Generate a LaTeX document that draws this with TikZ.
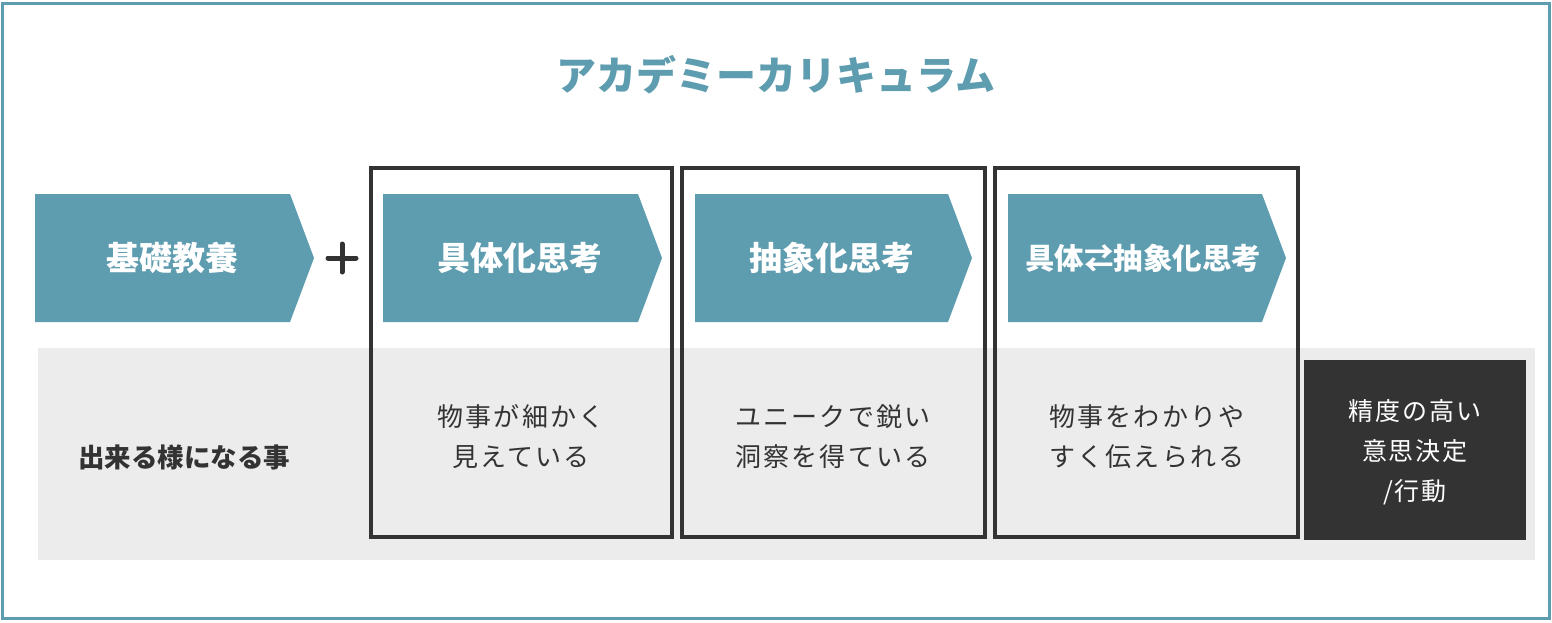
\documentclass[tikz,border=0pt]{standalone}
\usepackage{fontspec}
\setmainfont{Noto Sans CJK JP}
\newfontfamily\spaced{Noto Sans CJK JP}[LetterSpace=8]
\usetikzlibrary{calc}
\definecolor{teal0}{HTML}{5E9CAF}
\definecolor{ink}{HTML}{333333}
\definecolor{band}{HTML}{ECECEC}

\begin{document}
\begin{tikzpicture}[x=1pt,y=-1pt,
  chev/.style={fill=teal0},
  lab/.style={text=white,font=\fontsize{33}{36}\selectfont\bfseries},
  body/.style={text=ink,align=center,font=\spaced\fontsize{26}{40}\selectfont},
  frame/.style={draw=ink,line width=4pt}]
\useasboundingbox (0,0) rectangle (1552,622);
\draw[teal0,line width=3pt] (2,3.5) rectangle (1549,618);
\node[text=teal0,font=\fontsize{40}{42}\selectfont\bfseries] (title) at (776,75) {アカデミーカリキュラム};
\fill[band] (38,348) rectangle (1535,560);
% arrows
\fill[chev] (35,194) -- (290,194) -- (314,258) -- (290,322) -- (35,322) -- cycle;
\fill[chev] (383,194) -- (638,194) -- (662,258) -- (638,322) -- (383,322) -- cycle;
\fill[chev] (695,194) -- (948,194) -- (972,258) -- (948,322) -- (695,322) -- cycle;
\fill[chev] (1008,194) -- (1262,194) -- (1286,258) -- (1262,322) -- (1008,322) -- cycle;
\node[lab] (basic) at (172,258) {基礎教養};
\node[lab] (concrete) at (520,258) {具体化思考};
\node[lab] (abstract) at (832,258) {抽象化思考};
\node[lab,font=\fontsize{29.5}{32}\selectfont\bfseries] (both) at (1143,258) {具体⇄抽象化思考};
% plus
\draw[ink,line width=5pt,line cap=round] (328,258) -- (356,258) (342,244) -- (342,272);
% frames
\draw[frame] (371,168) rectangle (672,537);
\draw[frame] (682,168) rectangle (985,537);
\draw[frame] (995,168) rectangle (1298,537);
\fill[ink] (1304,360) rectangle (1526,540);
% texts
\node[text=ink,font=\fontsize{26.5}{30}\selectfont\bfseries] (can) at (184,457) {出来る様になる事};
\node[body] (t1) at (521,437) {物事が細かく\\見えている};
\node[body] (t2) at (833,437) {ユニークで鋭い\\洞察を得ている};
\node[body] (t3) at (1147,437) {物事をわかりや\\すく伝えられる};
\node[body,text=white,font=\spaced\fontsize{25}{40}\selectfont] (goal) at (1415,452) {精度の高い\\意思決定\\/行動};
\end{tikzpicture}
\end{document}
